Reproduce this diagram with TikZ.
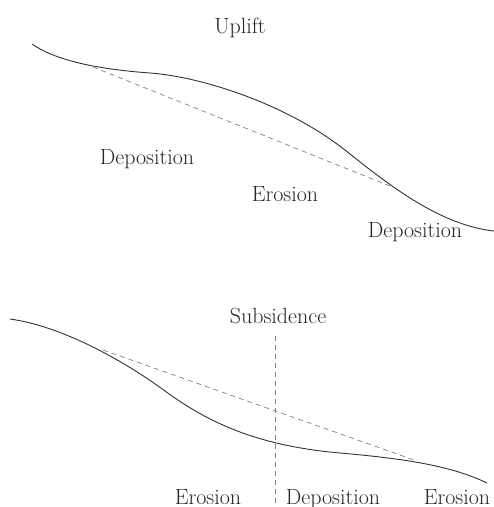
\documentclass[tikz,border=0pt]{standalone}
\begin{document}
\begin{tikzpicture}[x=1pt,y=-1pt,
  lbl/.style={font=\fontsize{22}{26}\selectfont, text=black!85, inner sep=0pt, anchor=base},
  ground/.style={draw=black!80, line width=0.9pt},
  guide/.style={draw=black!50, line width=0.7pt, dash pattern=on 5pt off 4pt}]
\useasboundingbox (0,0) rectangle (494,507);
% top panel
\draw[ground] (32,44) .. controls (55,60) and (95,69) .. (150,73)
  .. controls (200,76.6) and (285,103) .. (345,150)
  .. controls (390,186) and (440,225) .. (494,231);
\coordinate (t1) at (93,67);
\coordinate (t2) at (390,186);
\draw[guide] (t1) -- (t2);
\node[lbl] (uplift) at (240,33) {Uplift};
\node[lbl] (dep1) at (147,164) {Deposition};
\node[lbl] (ero1) at (285,201) {Erosion};
\node[lbl] (dep2) at (415,237) {Deposition};
% bottom panel
\draw[ground] (10,319) .. controls (60,326) and (120,358) .. (165,391)
  .. controls (210,424) and (260,446) .. (340,453)
  .. controls (400,458.25) and (450,465) .. (487,483);
\coordinate (b1) at (103,350);
\coordinate (b2) at (417,461);
\draw[guide] (b1) -- (b2);
\coordinate (v1) at (275,336);
\coordinate (v2) at (275,507);
\draw[guide] (v1) -- (v2);
\node[lbl] (subs) at (278,323) {Subsidence};
\node[lbl] (ero2) at (208,504) {Erosion};
\node[lbl] (dep3) at (333,504) {Deposition};
\node[lbl] (ero3) at (457,504) {Erosion};
\end{tikzpicture}
\end{document}
